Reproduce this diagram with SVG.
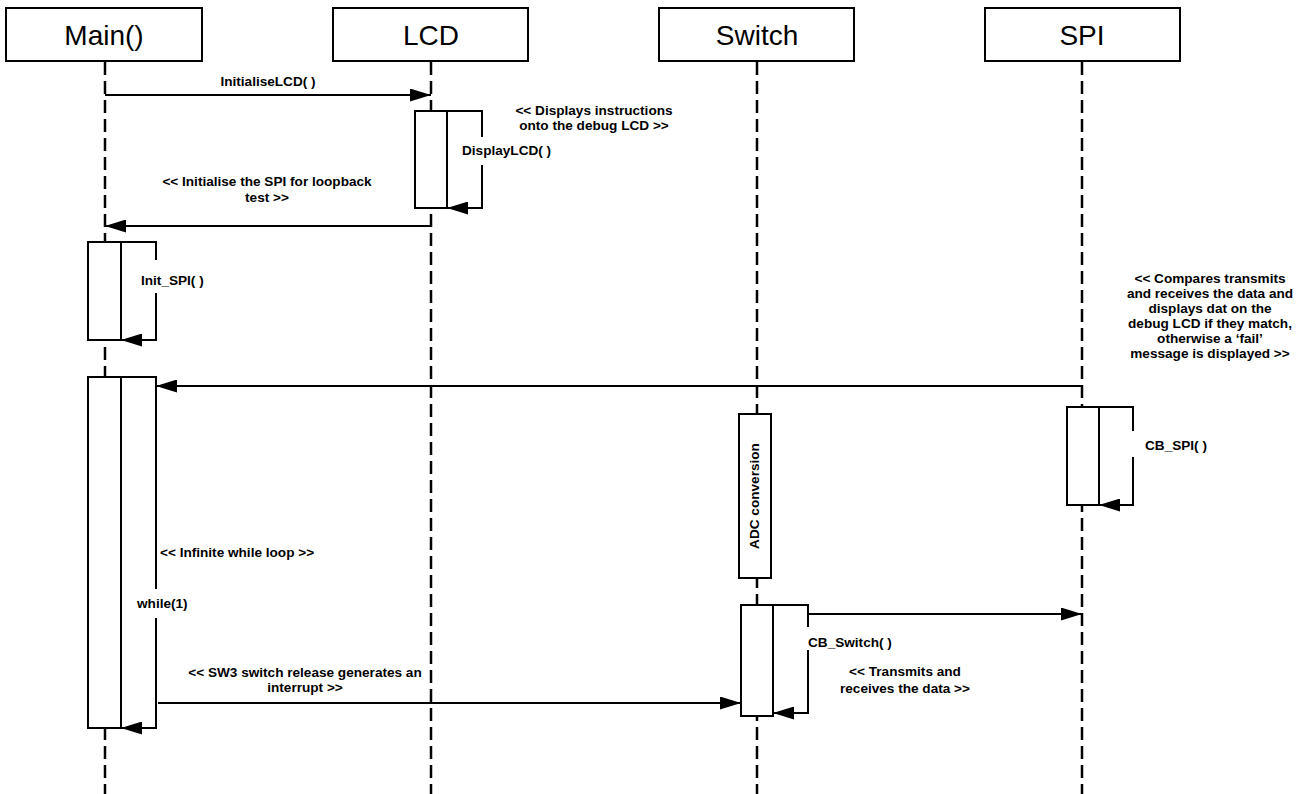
<svg xmlns="http://www.w3.org/2000/svg" width="1312" height="794" viewBox="0 0 1312 794">
<defs>
<style>
.hd{fill:#fff;stroke:#000;stroke-width:2}
.ht{font-family:"Liberation Sans",Arial,sans-serif;font-size:28px;text-anchor:middle;fill:#000}
.ll{stroke:#000;stroke-width:2.5;stroke-dasharray:13 6;fill:none}
.act{fill:#fff;stroke:#000;stroke-width:2}
.ln{stroke:#000;stroke-width:2;fill:none}
.lb{font-family:"Liberation Sans",Arial,sans-serif;font-size:13.6px;font-weight:bold;fill:#000}
.c{text-anchor:middle}
</style>
<marker id="ah" viewBox="0 0 21 13" refX="21" refY="6.5" markerWidth="21" markerHeight="13" markerUnits="userSpaceOnUse" orient="auto">
<path d="M0,0 L21,6.5 L0,13 z" fill="#000"/>
</marker>
</defs>
<rect width="1312" height="794" fill="#fff"/>

<g id="lifelines">
<line class="ll" x1="105" y1="62" x2="105" y2="794"/>
<line class="ll" x1="431" y1="62" x2="431" y2="794"/>
<line class="ll" x1="757" y1="62" x2="757" y2="794"/>
<line class="ll" x1="1082" y1="62" x2="1082" y2="794"/>
</g>

<g id="main">
<rect class="hd" x="6" y="8" width="196" height="53"/>
<text class="ht" x="104" y="45">Main()</text>
</g>
<g id="lcd">
<rect class="hd" x="333" y="8" width="195" height="53"/>
<text class="ht" x="431" y="45">LCD</text>
</g>
<g id="switch">
<rect class="hd" x="659" y="8" width="195" height="53"/>
<text class="ht" x="757" y="45">Switch</text>
</g>
<g id="spi">
<rect class="hd" x="985" y="8" width="195" height="53"/>
<text class="ht" x="1082" y="45">SPI</text>
</g>

<g id="lcd-activation">
<rect class="act" x="415" y="111" width="32" height="97"/>
<text class="lb" x="462" y="155">DisplayLCD( )</text>
</g>
<g id="init-spi-activation">
<rect class="act" x="88" y="242" width="33" height="98"/>
<text class="lb" x="141" y="285">Init_SPI( )</text>
</g>
<g id="while-activation">
<rect class="act" x="88" y="377" width="33" height="351"/>
<text class="lb" x="137" y="608">while(1)</text>
</g>
<g id="spi-activation">
<rect class="act" x="1067" y="407" width="32" height="98"/>
<text class="lb" x="1145" y="450">CB_SPI( )</text>
</g>
<g id="adc-activation">
<rect class="act" x="739" y="414" width="32" height="164"/>
<text class="lb c" transform="translate(759,496) rotate(-90)">ADC conversion</text>
</g>
<g id="switch-activation">
<rect class="act" x="741" y="605" width="32" height="111"/>
<text class="lb" x="808" y="647">CB_Switch( )</text>
</g>

<g id="connectors">
<line class="ln" x1="105" y1="95" x2="431" y2="95" marker-end="url(#ah)"/>
<path class="ln" d="M447,111 H482 V137 M482,165 V208 H447" marker-end="url(#ah)"/>
<line class="ln" x1="431" y1="226" x2="105" y2="226" marker-end="url(#ah)"/>
<path class="ln" d="M121,242 H156 V260 M156,293 V340 H121" marker-end="url(#ah)"/>
<line class="ln" x1="1082" y1="386" x2="156" y2="386" marker-end="url(#ah)"/>
<path class="ln" d="M121,377 H156 V589 M156,618 V728 H121" marker-end="url(#ah)"/>
<path class="ln" d="M1099,407 H1133 V431 M1133,457 V505 H1099" marker-end="url(#ah)"/>
<line class="ln" x1="158" y1="703" x2="741" y2="703" marker-end="url(#ah)"/>
<line class="ln" x1="808" y1="614" x2="1082" y2="614" marker-end="url(#ah)"/>
<path class="ln" d="M773,605 H808 V627 M808,650 V713 H773" marker-end="url(#ah)"/>
</g>

<g id="labels">
<text class="lb c" x="268" y="86">InitialiseLCD( )</text>
<text class="lb c" x="594" y="115">&lt;&lt; Displays instructions</text>
<text class="lb c" x="594" y="130">onto the debug LCD &gt;&gt;</text>
<text class="lb c" x="267" y="186">&lt;&lt; Initialise the SPI for loopback</text>
<text class="lb c" x="267" y="202">test &gt;&gt;</text>
<text class="lb c" x="1210" y="283">&lt;&lt; Compares transmits</text>
<text class="lb c" x="1210" y="298">and receives the data and</text>
<text class="lb c" x="1210" y="313">displays dat on the</text>
<text class="lb c" x="1210" y="328">debug LCD if they match,</text>
<text class="lb c" x="1210" y="343">otherwise a ‘fail’</text>
<text class="lb c" x="1210" y="358">message is displayed &gt;&gt;</text>
<text class="lb" x="160" y="557">&lt;&lt; Infinite while loop &gt;&gt;</text>
<text class="lb c" x="305" y="677">&lt;&lt; SW3 switch release generates an</text>
<text class="lb c" x="305" y="692">interrupt &gt;&gt;</text>
<text class="lb c" x="905" y="676">&lt;&lt; Transmits and</text>
<text class="lb c" x="905" y="693">receives the data &gt;&gt;</text>
</g>
</svg>
